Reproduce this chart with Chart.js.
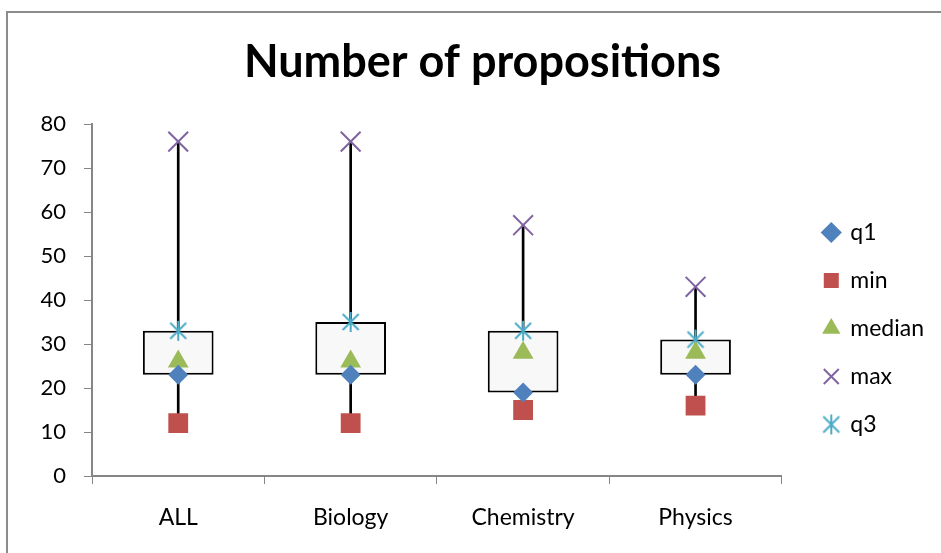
<!DOCTYPE html>
<html>
<head>
<meta charset="utf-8">
<script src="https://cdn.jsdelivr.net/npm/chart.js@4/dist/chart.umd.min.js"></script>
<style>
    html, body { margin: 0; padding: 0; background: #fff; }
    #wrap { position: relative; width: 941px; height: 553px; }
    #frame { position: absolute; left: 6px; top: 11px; width: 960px; height: 600px; border: 2px solid #8c8c8c; box-sizing: border-box; }
    canvas { position: absolute; left: 0; top: 0; }
</style>
</head>
<body>
<div id="wrap">
    <div id="frame"></div>
    <canvas id="chart" width="941" height="553"></canvas>
</div>
<script>
const categories = ['ALL', 'Biology', 'Chemistry', 'Physics'];
const minVals = [12, 12, 15, 16];
const q1Vals = [23, 23, 19, 23];
const medianVals = [26, 26, 28, 28];
const q3Vals = [33, 35, 33, 31];
const maxVals = [76, 76, 57, 43];
const yTicks = [0, 10, 20, 30, 40, 50, 60, 70, 80];

const FONT = 'Lato, "Open Sans", sans-serif';

// asterisk marker for q3 (vertical bar + X)
function makeAsterisk(size, color) {
    const c = document.createElement('canvas');
    c.width = size; c.height = size;
    const g = c.getContext('2d');
    const m = size / 2, r = size / 2 - 1;
    g.strokeStyle = color;
    g.lineWidth = 2;
    g.beginPath();
    g.moveTo(m, m - r); g.lineTo(m, m + r);
    const d = r * 0.8;
    g.moveTo(m - d, m - d); g.lineTo(m + d, m + d);
    g.moveTo(m - d, m + d); g.lineTo(m + d, m - d);
    g.stroke();
    return c;
}

const whiskers = categories.map((c, i) => [minVals[i], maxVals[i]]);
const boxes = categories.map((c, i) => [q1Vals[i], q3Vals[i]]);

// nudge the legend and title blocks to where Excel puts them
const boxShift = {
    id: 'boxShift',
    afterLayout(chart) {
        const lg = chart.legend;
        if (lg) {
            lg.left += 17; lg.right += 17;
            lg.top += 52; lg.bottom += 52;
        }
        const t = chart.titleBlock;
        if (t) {
            t.left += 24; t.right += 24;
        }
    }
};

const ctx = document.getElementById('chart').getContext('2d');
const chart = new Chart(ctx, {
    type: 'bar',
    data: {
        labels: categories,
        datasets: [
            {
                type: 'line', label: 'q1', data: q1Vals, showLine: false, order: 0,
                pointStyle: 'rectRot', pointRadius: 10, pointHoverRadius: 10,
                backgroundColor: '#4f81bd', borderColor: '#4f81bd', pointBorderWidth: 0
            },
            {
                type: 'line', label: 'min', data: minVals, showLine: false, order: 0,
                pointStyle: 'rect', pointRadius: 14, pointHoverRadius: 14,
                backgroundColor: '#c0504d', borderColor: '#c0504d', pointBorderWidth: 0
            },
            {
                type: 'line', label: 'median', data: medianVals, showLine: false, order: 0,
                pointStyle: 'triangle', pointRadius: 12, pointHoverRadius: 12,
                backgroundColor: '#9bbb59', borderColor: '#9bbb59', pointBorderWidth: 0
            },
            {
                type: 'line', label: 'max', data: maxVals, showLine: false, order: 0,
                pointStyle: 'crossRot', pointRadius: 14, pointHoverRadius: 14,
                backgroundColor: '#8064a2', borderColor: '#8064a2', pointBorderWidth: 2
            },
            {
                type: 'line', label: 'q3', data: q3Vals, showLine: false, order: 0,
                pointStyle: makeAsterisk(22, '#4bacc6'), pointRadius: 11,
                backgroundColor: '#4bacc6', borderColor: '#4bacc6', pointBorderWidth: 2
            },
            {
                label: 'box', data: boxes, order: 1, grouped: false,
                backgroundColor: '#f8f8f8', borderColor: '#000', borderWidth: 2,
                borderSkipped: false, barPercentage: 0.41, categoryPercentage: 1
            },
            {
                label: 'whisker', data: whiskers, order: 2, grouped: false,
                backgroundColor: '#000', borderWidth: 0, barThickness: 2
            }
        ]
    },
    options: {
        responsive: false,
        animation: false,
        layout: { padding: { left: 0, right: 24, top: 0, bottom: 0 } },
        plugins: {
            title: {
                display: true,
                text: 'Number of propositions',
                color: '#000',
                font: { family: FONT, size: 45, weight: 'bold' },
                padding: { top: 35, bottom: 35 }
            },
            legend: {
                position: 'right',
                labels: {
                    usePointStyle: true,
                    boxWidth: 15,
                    boxHeight: 15,
                    color: '#000',
                    font: { family: FONT, size: 23 },
                    padding: 25,
                    filter: item => item.text !== 'box' && item.text !== 'whisker'
                }
            },
            tooltip: { enabled: false }
        },
        scales: {
            x: {
                afterFit: scale => { scale.height = 77; },
                grid: { display: true, drawOnChartArea: false, offset: true, tickLength: 8, color: '#868686' },
                border: { color: '#868686', width: 2 },
                ticks: { color: '#000', font: { family: FONT, size: 23 }, padding: 20 }
            },
            y: {
                min: 0, max: 80,
                afterFit: scale => { scale.width = 92; },
                afterBuildTicks: scale => { scale.ticks = yTicks.map(v => ({ value: v })); },
                grid: { display: true, drawOnChartArea: false, tickLength: 8, color: '#868686' },
                border: { color: '#868686', width: 2 },
                ticks: { color: '#000', font: { family: FONT, size: 22 }, padding: 18 }
            }
        }
    },
    plugins: [boxShift]
});
</script>
</body>
</html>
